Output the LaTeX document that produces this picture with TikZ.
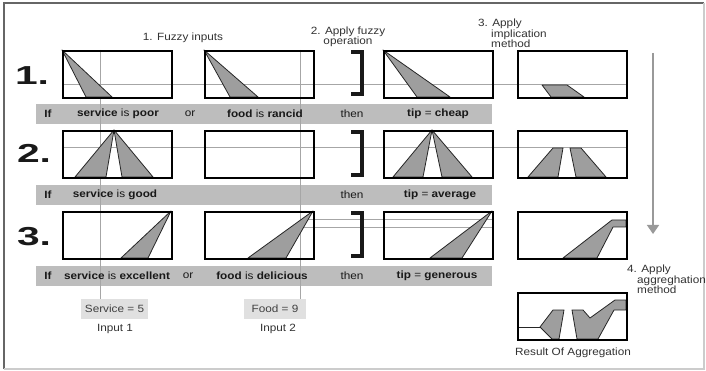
\documentclass[tikz,border=0pt]{standalone}
\usepackage{graphicx}
\usepackage{fontspec}
\setmainfont{Liberation Sans}[FakeStretch=1.12]
\usetikzlibrary{arrows.meta}
\begin{document}
\begin{tikzpicture}[x=1pt,y=-1pt,
  box/.style={draw=black, line width=1.9pt, minimum width=109pt, minimum height=47pt, inner sep=0pt, anchor=north west},
  mf/.style={fill=black!38, draw=black!85, line width=0.8pt, line join=round},
  guide/.style={draw=black!35, line width=1pt},
  bar/.style={fill=black!26, draw=none, minimum width=456pt, minimum height=20pt, inner sep=0pt, anchor=north west},
  inbox/.style={fill=black!12, draw=none, inner sep=0pt, minimum height=20pt, text=black!75, font=\fontsize{10.5}{10.5}\selectfont},
  txt/.style={font=\fontsize{10.5}{10.3}\selectfont, inner sep=0pt, text=black!80},
  bartxt/.style={font=\fontsize{10.5}{10}\selectfont, inner sep=0pt, text=black!90},
  bigno/.style={font=\fontsize{26}{26}\selectfont\bfseries, inner sep=0pt, text=black!90},
  brk/.style={draw=black!90, line width=3.5pt},
  flow/.style={draw=black!40, line width=1.5pt, -{Triangle[width=12pt,length=9pt]}}
]
% background and frame
\path[fill=white] (0,0) rectangle (706,371);
\draw[black!60, line width=1.2pt] (4,369) -- (4,3) -- (704,3);
\draw[black!20, line width=1.2pt] (704,3) -- (704,369) -- (4,369);

% rule bars
\node[bar] (bar1) at (36,104) {};
\node[bar] (bar2) at (36,185) {};
\node[bar] (bar3) at (36,265.5) {};

% input value boxes
\node[inbox, minimum width=67pt] (in1) at (114.5,309) {Service = 5};
\node[inbox, minimum width=62pt] (in2) at (275,309) {Food = 9};

% guide lines
\draw[guide] (100,50) -- (100,299);
\draw[guide] (300,50) -- (300,299);
\draw[guide] (62,85) -- (626,85);
\draw[guide] (62,148) -- (626,148);
\draw[guide] (300,220) -- (492,220);
\draw[guide] (300,228) -- (492,228);

% membership shapes, row 1
\draw[mf] (62,50) -- (86,97) -- (112,97) -- cycle;
\draw[mf] (204,50) -- (230,97) -- (258,97) -- cycle;
\draw[mf] (383,50) -- (417,97) -- (450,97) -- cycle;
\draw[mf] (542,85) -- (567,85) -- (584,97) -- (551,97) -- cycle;
% row 2
\draw[mf] (114,130) -- (75,177) -- (106,177) -- cycle;
\draw[mf] (114,130) -- (122,177) -- (153,177) -- cycle;
\draw[mf] (432,130) -- (393,177) -- (423,177) -- cycle;
\draw[mf] (432,130) -- (442,177) -- (472,177) -- cycle;
\draw[mf] (553,148) -- (563,148) -- (558,177) -- (528,177) -- cycle;
\draw[mf] (570,148) -- (581,148) -- (606,177) -- (576,177) -- cycle;
% row 3
\draw[mf] (171,211) -- (121,258) -- (148,258) -- cycle;
\draw[mf] (313,211) -- (248,258) -- (286,258) -- cycle;
\draw[mf] (492,211) -- (430,258) -- (462,258) -- cycle;
\draw[mf] (563,258) -- (612,220) -- (626,220) -- (626,227) -- (613,227) -- (597,258) -- cycle;
% aggregation result
\draw[mf] (517,327) -- (540,327);
\draw[mf] (540,327) -- (553,310) -- (564,310) -- (559,339) -- (552,339) -- cycle;
\draw[mf] (572,310) -- (583,310) -- (590,318) -- (615,300) -- (626,300) -- (626,310) -- (614,310) -- (598,339) -- (577,339) -- cycle;

% boxes
\node[box] (a1) at (62,50) {};
\node[box] (b1) at (204,50) {};
\node[box] (t1) at (383,50) {};
\node[box] (m1) at (517,50) {};
\node[box] (a2) at (62,130) {};
\node[box] (b2) at (204,130) {};
\node[box] (t2) at (383,130) {};
\node[box] (m2) at (517,130) {};
\node[box] (a3) at (62,211) {};
\node[box] (b3) at (204,211) {};
\node[box] (t3) at (383,211) {};
\node[box] (m3) at (517,211) {};
\node[box] (res) at (517,292) {};

% brackets
\draw[brk] (351,52) -- (362,52) -- (362,94) -- (351,94);
\draw[brk] (351,132) -- (362,132) -- (362,175) -- (351,175);
\draw[brk] (351,213) -- (362,213) -- (362,256) -- (351,256);

% rule numbers
\node[bigno] (n1) at (32,76) {\scalebox{1.4}[1]{1.}};
\node[bigno] (n2) at (34,153) {\scalebox{1.4}[1]{2.}};
\node[bigno] (n3) at (34,237) {\scalebox{1.4}[1]{3.}};

% rule texts
\node[bartxt] at (48,114) {\textbf{If}};
\node[bartxt] at (118,114) {\textbf{service} is \textbf{poor}};
\node[bartxt] at (190,114) {or};
\node[bartxt] at (265,114) {\textbf{food} is \textbf{rancid}};
\node[bartxt] at (352,114) {then};
\node[bartxt] at (438,114) {\textbf{tip} = \textbf{cheap}};

\node[bartxt] at (48,195) {\textbf{If}};
\node[bartxt] at (115,195) {\textbf{service} is \textbf{good}};
\node[bartxt] at (352,195) {then};
\node[bartxt] at (440,195) {\textbf{tip} = \textbf{average}};

\node[bartxt] at (48,275.5) {\textbf{If}};
\node[bartxt] at (117,275.5) {\textbf{service} is \textbf{excellent}};
\node[bartxt] at (188,275.5) {or};
\node[bartxt] at (262,275.5) {\textbf{food} is \textbf{delicious}};
\node[bartxt] at (352,275.5) {then};
\node[bartxt] at (437,275.5) {\textbf{tip} = \textbf{generous}};

% headings and labels
\node[txt] (h1) at (183,38) {1. Fuzzy inputs};
\node[txt, align=center] (h2) at (348,37) {2. Apply fuzzy\\operation};
\node[txt, align=left, anchor=north west] (h3) at (478,19) {3. Apply\\\hspace*{13pt}implication\\\hspace*{13pt}method};
\node[txt, align=left, anchor=north west] (h4) at (627,265) {4. Apply\\\hspace*{10pt}aggreghation\\\hspace*{10pt}method};
\node[txt] (l1) at (115,329) {Input 1};
\node[txt] (l2) at (278,329) {Input 2};
\node[txt] (l3) at (573,353) {Result Of Aggregation};

% flow arrow
\coordinate (ar1) at (653,53);
\coordinate (ar2) at (653,234);
\draw[flow] (ar1) -- (ar2);
\end{tikzpicture}
\end{document}
